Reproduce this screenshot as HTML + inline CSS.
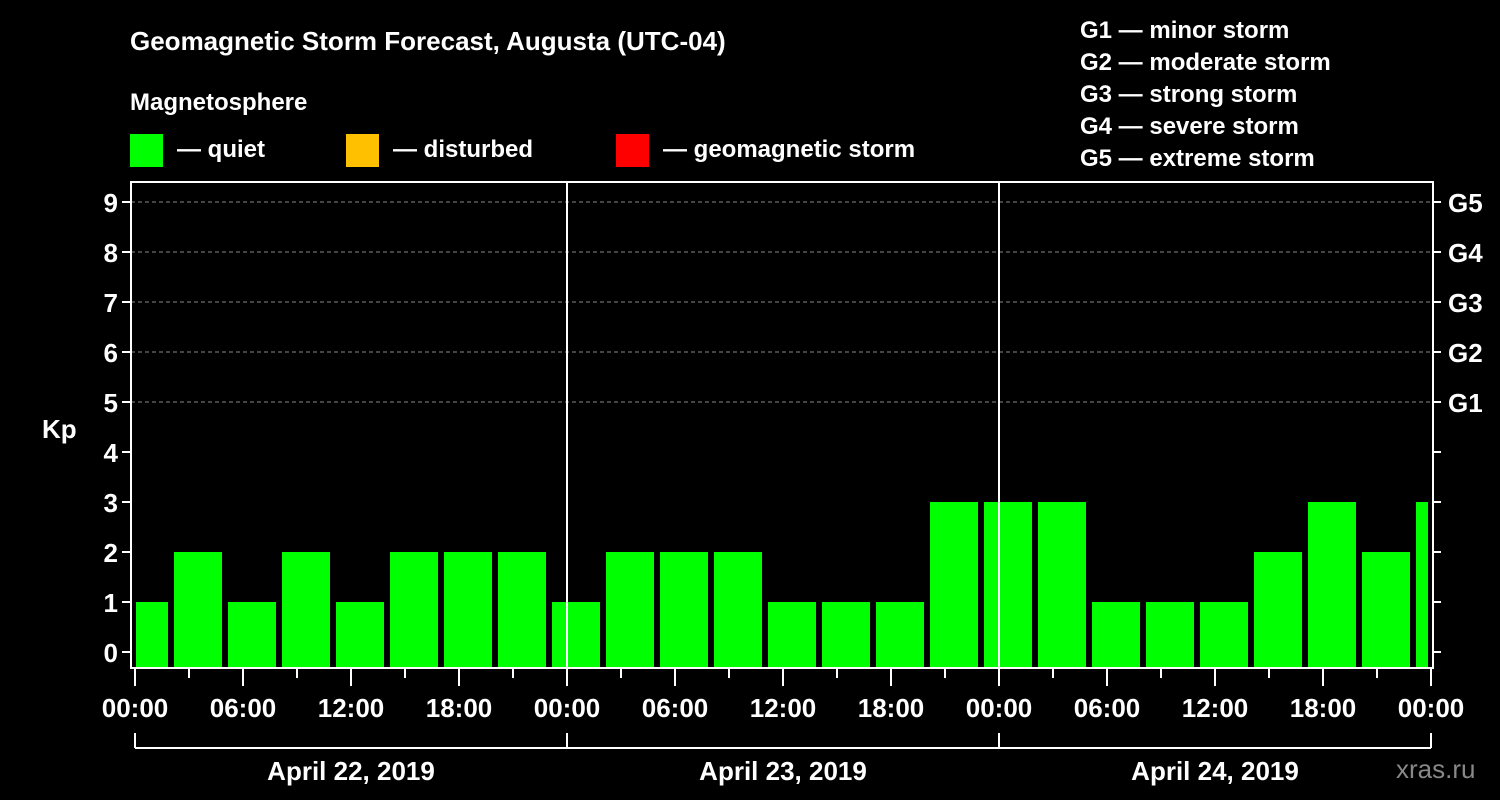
<!DOCTYPE html>
<html><head><meta charset="utf-8"><style>
html,body{margin:0;padding:0;background:#000;}
svg{display:block;}
text{font-family:"Liberation Sans",Arial,sans-serif;font-weight:bold;}
</style></head><body>
<svg id="chart" width="1500" height="800" viewBox="0 0 1500 800" font-family="Liberation Sans, Arial, sans-serif" font-weight="bold">
<text x="130" y="50" fill="#fff" font-size="26">Geomagnetic Storm Forecast, Augusta (UTC-04)</text>
<text x="130" y="110" fill="#fff" font-size="24">Magnetosphere</text>
<g><rect x="130" y="134" width="33" height="33" fill="#00ff00"/><text x="177" y="157" fill="#fff" font-size="24">— quiet</text></g>
<g><rect x="346" y="134" width="33" height="33" fill="#ffc000"/><text x="393" y="157" fill="#fff" font-size="24">— disturbed</text></g>
<g><rect x="616" y="134" width="33" height="33" fill="#ff0000"/><text x="663" y="157" fill="#fff" font-size="24">— geomagnetic storm</text></g>
<g fill="#fff" font-size="24">
<text x="1080" y="38">G1 — minor storm</text>
<text x="1080" y="70">G2 — moderate storm</text>
<text x="1080" y="102">G3 — strong storm</text>
<text x="1080" y="134">G4 — severe storm</text>
<text x="1080" y="166">G5 — extreme storm</text>
</g>
<text x="42" y="438" fill="#fff" font-size="26">Kp</text>
<text x="1396" y="778" fill="#888" font-size="26" style="font-weight:normal">xras.ru</text>
<defs><clipPath id="pc"><rect x="136" y="182" width="1292" height="486"/></clipPath></defs>
<g id="plot"></g>
</svg>
<script>
const kpValues = [1,2,1,2,1,2,2,2,1,2,2,2,1,1,1,3,3,3,1,1,1,2,3,2,3];
const yTicks = [0,1,2,3,4,5,6,7,8,9];
const gLabels = ["G1","G2","G3","G4","G5"];
const xTickLabels = ["00:00","06:00","12:00","18:00","00:00","06:00","12:00","18:00","00:00","06:00","12:00","18:00","00:00"];
const dayLabels = ["April 22, 2019","April 23, 2019","April 24, 2019"];

(function(){
const NS = "http://www.w3.org/2000/svg";
const g = document.getElementById("plot");
const X0 = 135, PX_PER_HOUR = 18, Y0 = 652, PX_PER_KP = 50;
const pL = 131, pR = 1433, pT = 182, pB = 668;
const xs = h => X0 + h * PX_PER_HOUR;
const ys = v => Y0 - v * PX_PER_KP;
function mk(tag, attrs){const e=document.createElementNS(NS,tag);for(const k in attrs)e.setAttribute(k,attrs[k]);g.appendChild(e);return e;}
const TF = "Liberation Sans, Arial, sans-serif";

gLabels.forEach((lab,i)=>{
  const y = ys(5+i);
  const l = mk("line",{x1:pL,x2:pR,y1:y,y2:y,stroke:"#888","stroke-width":1,"stroke-dasharray":"4,3"});
  
  
  const tx = mk("text",{x:1448,y:y+10,fill:"#fff","font-size":26,"font-family":TF,"font-weight":"bold"});
  tx.textContent = lab;
  
  
});
yTicks.forEach(v=>{
  const y = ys(v);
  const rt = mk("line",{x1:pR,x2:pR+8,y1:y,y2:y,stroke:"#fff","stroke-width":2});
  
  
  const t = mk("line",{x1:pL-9,x2:pL,y1:y,y2:y,stroke:"#fff","stroke-width":2});
  
  
  const tx = mk("text",{x:pL-13,y:y+10,fill:"#fff","font-size":26,"text-anchor":"end","font-family":TF,"font-weight":"bold"});
  tx.textContent = v;
  
  
});

kpValues.forEach((v,k)=>{
  const xl = xs(3*k - 0.833);
  const b = mk("rect",{x:xl,y:ys(v),width:48,height:pB-1-ys(v),fill:v>=5?"#ff0000":(v>=4?"#ffc000":"#00ff00"),"clip-path":"url(#pc)"});
  
  
});

[24,48].forEach(h=>{
  const l = mk("line",{x1:xs(h),x2:xs(h),y1:pT,y2:pB,stroke:"#fff","stroke-width":2});
  
  
});

const f = mk("rect",{x:pL,y:pT,width:pR-pL,height:pB-pT,fill:"none",stroke:"#fff","stroke-width":2});



for (let h=0; h<=72; h+=3){
  const major = h%6===0;
  const t = mk("line",{x1:xs(h),x2:xs(h),y1:pB,y2:pB+(major?18:10),stroke:"#fff","stroke-width":2});
  
  
}
xTickLabels.forEach((lab,i)=>{
  const tx = mk("text",{x:xs(i*6),y:717,fill:"#fff","font-size":26,"text-anchor":"middle","font-family":TF,"font-weight":"bold"});
  tx.textContent = lab;
  
  
});
const bl = mk("line",{x1:xs(0),x2:xs(72),y1:748,y2:748,stroke:"#fff","stroke-width":2});


[0,24,48,72].forEach(h=>{
  const t = mk("line",{x1:xs(h),x2:xs(h),y1:733,y2:748,stroke:"#fff","stroke-width":2});
  
  
});
dayLabels.forEach((lab,i)=>{
  const tx = mk("text",{x:xs(i*24+12),y:780,fill:"#fff","font-size":26,"text-anchor":"middle","font-family":TF,"font-weight":"bold"});
  tx.textContent = lab;
  
  
});
})();
</script>
</body></html>
